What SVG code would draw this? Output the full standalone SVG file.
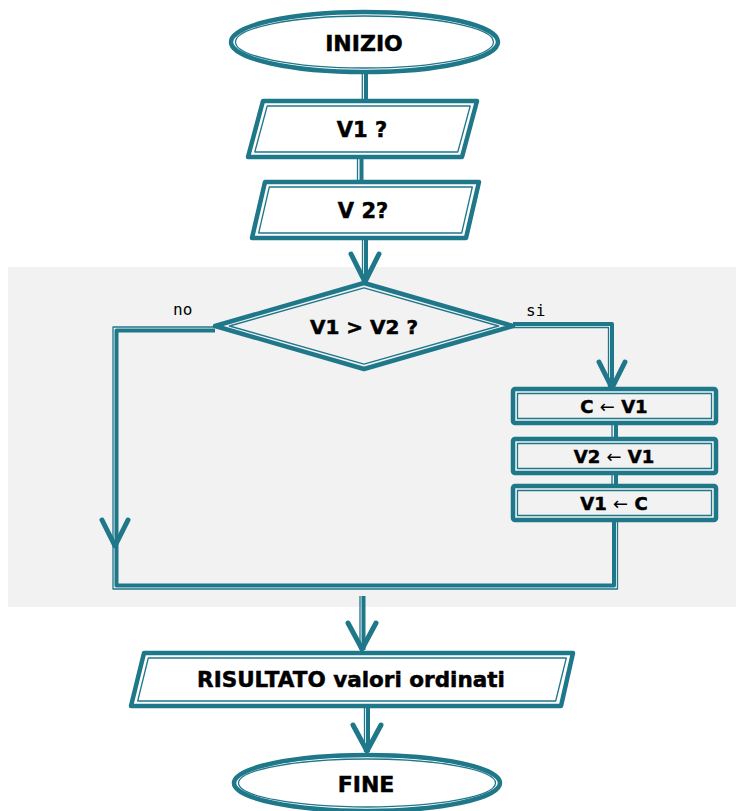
<svg xmlns="http://www.w3.org/2000/svg" width="736" height="811" viewBox="0 0 736 811">
<style>
.bg{fill:#f2f2f2}
.o{fill:#fff;stroke:#1f778a;stroke-width:4.5;stroke-linejoin:round}
.og{fill:#f2f2f2;stroke:#1f778a;stroke-width:4.5;stroke-linejoin:round}
.i{fill:none;stroke:#1f778a;stroke-width:1.3;stroke-linejoin:round}
.ck{fill:none;stroke:#1f778a;stroke-width:4;stroke-linejoin:round}
.cn{fill:none;stroke:#1f778a;stroke-width:1.3;stroke-linejoin:round}
.ah{fill:none;stroke:#1f778a;stroke-width:5;stroke-linecap:round;stroke-linejoin:round}
.t{font-family:"DejaVu Sans",Verdana,sans-serif;font-weight:bold;fill:#000;stroke:#000;stroke-width:0.5;text-anchor:middle}
.ar{font-weight:normal;stroke-width:0}
.lb{font-family:"DejaVu Sans Mono","Liberation Mono",monospace;font-size:16px;fill:#000}
</style>
<rect class="bg" x="8" y="267" width="728" height="340"/>
<g id="connectors">
  <path class="ck" d="M366 72V101"/><path class="cn" d="M362.3 72V101"/>
  <path class="ck" d="M361.5 157V182"/><path class="cn" d="M357.5 157V182"/>
  <path class="ck" d="M366 238V283"/><path class="cn" d="M362.5 238V283"/>
  <path class="ah" d="M351 254L365 282L379 254"/>
  <path class="ck" d="M215 330.5H116.5V585.5H614V520"/>
  <path class="cn" d="M215 327H113V589H617.5V520"/>
  <path class="ah" d="M102 520L115 546L128 520"/>
  <path class="ck" d="M513 324H612V387"/><path class="cn" d="M513 327.5H608.5V387"/>
  <path class="ah" d="M599 362L612 388L625 362"/>
  <path class="ck" d="M616 423V439M616 473V486"/><path class="cn" d="M612 423V439M612 473V486"/>
  <path class="ck" d="M363.5 596V650"/><path class="cn" d="M360 596V650"/>
  <path class="ah" d="M348 623L362 649L376 623"/>
  <path class="ck" d="M368 706V752"/><path class="cn" d="M364.5 706V752"/>
  <path class="ah" d="M353 725L367 751L381 725"/>
  <text class="lb" x="173" y="315">no</text>
  <text class="lb" x="526" y="316">si</text>
</g>
<g id="inizio">
  <ellipse class="o" cx="364.5" cy="42" rx="133.5" ry="30"/>
  <ellipse class="i" cx="364.5" cy="42" rx="129" ry="26"/>
  <text class="t" x="364" y="51" font-size="22">INIZIO</text>
</g>
<g id="v1">
  <path class="o" d="M263 101H477L462 157H248Z"/>
  <path class="i" d="M267.2 106H470.2L457.8 152H254.8Z"/>
  <text class="t" x="362" y="137" font-size="21">V1 ?</text>
</g>
<g id="v2">
  <path class="o" d="M265 182H479L466 238H252Z"/>
  <path class="i" d="M269.3 187H472.3L461.7 233H258.7Z"/>
  <text class="t" x="363" y="218" font-size="21">V 2?</text>
</g>
<g id="decision">
  <path class="og" d="M364 283L513 326L364 369L215 326Z"/>
  <path class="i" d="M364 287.8L498.6 326L364 364.2L229.4 326Z"/>
  <text class="t" x="364" y="334" font-size="20">V1 &gt; V2 ?</text>
</g>
<g id="assign1">
  <rect class="og" x="513" y="389" width="203" height="34" rx="2"/>
  <rect class="i" x="517.5" y="393.5" width="194" height="25"/>
  <text class="t" x="614" y="413" font-size="18">C <tspan class="ar">←</tspan> V1</text>
</g>
<g id="assign2">
  <rect class="og" x="513" y="439" width="203" height="34" rx="2"/>
  <rect class="i" x="517.5" y="443.5" width="194" height="25"/>
  <text class="t" x="614" y="463" font-size="18">V2 <tspan class="ar">←</tspan> V1</text>
</g>
<g id="assign3">
  <rect class="og" x="513" y="486" width="203" height="34" rx="2"/>
  <rect class="i" x="517.5" y="490.5" width="194" height="25"/>
  <text class="t" x="614" y="510" font-size="18">V1 <tspan class="ar">←</tspan> C</text>
</g>
<g id="risultato">
  <path class="o" d="M144 653H573L561 706H131Z"/>
  <path class="i" d="M148.3 658H566.3L555.7 701H137.7Z"/>
  <text class="t" x="351" y="687" font-size="21.5">RISULTATO valori ordinati</text>
</g>
<g id="fine">
  <ellipse class="o" cx="367" cy="783" rx="133" ry="28"/>
  <ellipse class="i" cx="367" cy="783" rx="128.5" ry="24"/>
  <text class="t" x="366" y="792" font-size="22">FINE</text>
</g>
</svg>
